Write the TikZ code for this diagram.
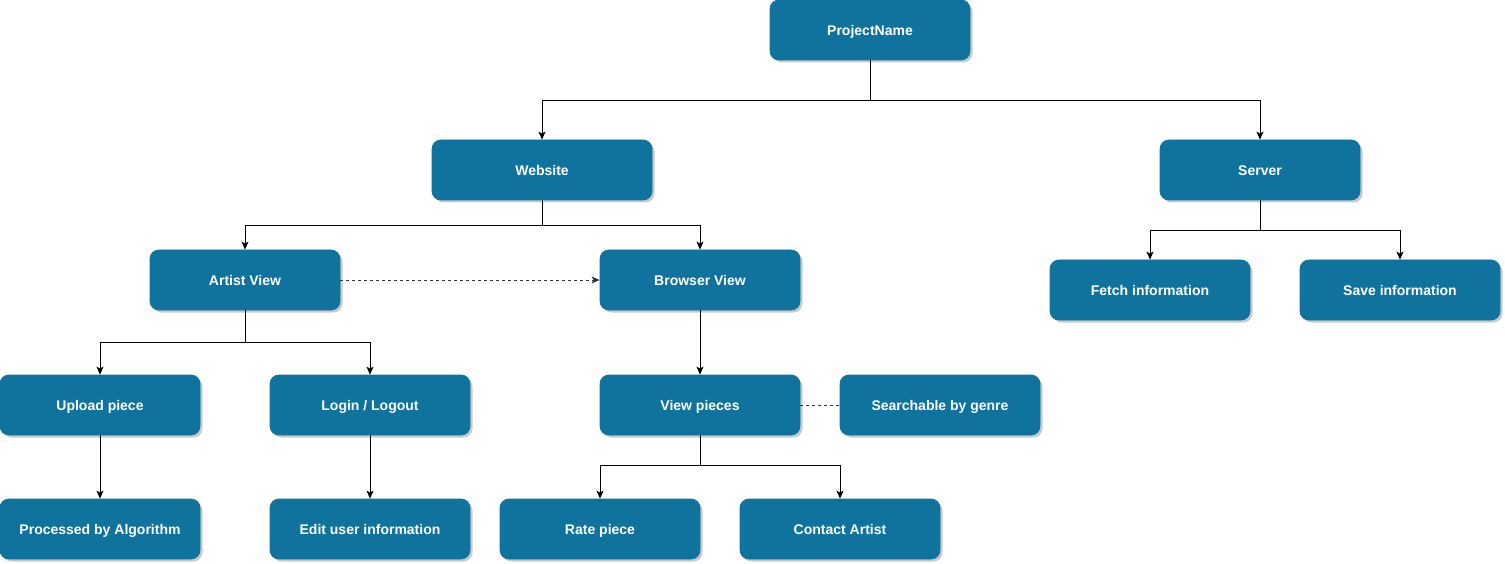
\documentclass[tikz,border=0pt]{standalone}
\usepackage{fontspec}
\setmainfont{Liberation Sans}
\usetikzlibrary{shadows,arrows.meta}
\definecolor{boxblue}{HTML}{10739E}
\tikzset{
  box/.style={draw=boxblue, fill=boxblue, rounded corners=9pt, text=white,
    font=\fontsize{14}{16}\selectfont\bfseries, minimum width=200pt, minimum height=60pt,
    inner sep=0pt, line width=0.8pt, text height=13pt, text depth=1.5pt,
    drop shadow={shadow xshift=2.5pt, shadow yshift=-2.5pt, fill=black!35, opacity=0.6}},
  conn/.style={draw=black, line width=0.8pt, -{Stealth[length=8pt,width=7pt,inset=2pt]}},
  plainline/.style={draw=black, line width=0.8pt},
  dashline/.style={draw=black!80, line width=0.8pt, dash pattern=on 3pt off 3pt}
}
\begin{document}
\begin{tikzpicture}[x=1pt,y=-1pt]
\useasboundingbox (0,0) rectangle (1505,564);
\node[box] (proj) at (870,30) {ProjectName};
\node[box, minimum width=220pt] (web) at (542,170) {Website};
\node[box] (srv) at (1260,170) {Server};
\node[box, minimum width=190pt] (artist) at (245,280) {Artist View};
\node[box] (browser) at (700,280) {Browser View};
\node[box] (fetch) at (1150,290) {Fetch information};
\node[box] (save) at (1400,290) {Save information};
\node[box] (upload) at (100,405) {Upload piece};
\node[box] (login) at (370,405) {Login / Logout};
\node[box] (view) at (700,405) {View pieces};
\node[box] (search) at (940,405) {Searchable by genre};
\node[box] (proc) at (100,529) {Processed by Algorithm};
\node[box] (edit) at (370,529) {Edit user information};
\node[box] (rate) at (600,529) {Rate piece};
\node[box] (contact) at (840,529) {Contact Artist};

\coordinate (j1) at (870,100);
\coordinate (j2) at (542,225);
\coordinate (j3) at (1260,230);
\coordinate (j4) at (245,342);
\coordinate (j5) at (700,465);

\draw[plainline] (proj.south) -- (j1);
\draw[conn] (j1) -| (web.north);
\draw[conn] (j1) -| (srv.north);
\draw[plainline] (web.south) -- (j2);
\draw[conn] (j2) -| (artist.north);
\draw[conn] (j2) -| (browser.north);
\draw[plainline] (srv.south) -- (j3);
\draw[conn] (j3) -| (fetch.north);
\draw[conn] (j3) -| (save.north);
\draw[plainline] (artist.south) -- (j4);
\draw[conn] (j4) -| (upload.north);
\draw[conn] (j4) -| (login.north);
\draw[conn] (browser.south) -- (view.north);
\draw[conn] (upload.south) -- (proc.north);
\draw[conn] (login.south) -- (edit.north);
\draw[plainline] (view.south) -- (j5);
\draw[conn] (j5) -| (rate.north);
\draw[conn] (j5) -| (contact.north);
\draw[dashline, -{Stealth[length=8pt,width=7pt,inset=2pt]}] (artist.east) -- (browser.west);
\draw[dashline] (view.east) -- (search.west);
\end{tikzpicture}
\end{document}
